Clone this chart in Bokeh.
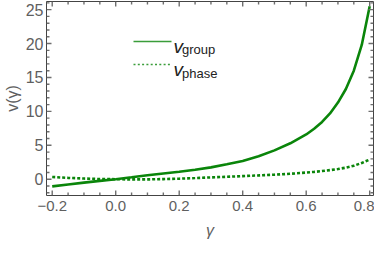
from bokeh.plotting import figure
from bokeh.models import FixedTicker, Label, BoxAnnotation, ColumnDataSource
from bokeh.embed import file_html
from bokeh.resources import INLINE

# ---- data ----
gamma = [-0.2, -0.15, -0.1, -0.05, 0.0, 0.05, 0.1, 0.15, 0.2, 0.25, 0.3, 0.35, 0.4,
         0.45, 0.5, 0.55, 0.6, 0.625, 0.65, 0.675, 0.7, 0.725, 0.75, 0.775, 0.8]
v_group = [-1.05, -0.77, -0.5, -0.25, 0.0, 0.28, 0.58, 0.85, 1.1, 1.4, 1.75, 2.2, 2.7,
           3.4, 4.25, 5.3, 6.6, 7.45, 8.45, 9.7, 11.3, 13.3, 16.0, 19.8, 25.5]
v_phase = [0.33, 0.2, 0.1, 0.03, 0.0, -0.03, -0.03, 0.02, 0.08, 0.17, 0.27, 0.36, 0.46,
           0.56, 0.67, 0.8, 0.98, 1.08, 1.2, 1.34, 1.5, 1.7, 1.98, 2.4, 2.9]

x_ticks = [-0.2, 0.0, 0.2, 0.4, 0.6, 0.8]
x_tick_labels = ["\u22120.2", "0.0", "0.2", "0.4", "0.6", "0.8"]
x_minor = [-0.15, -0.1, -0.05, 0.05, 0.1, 0.15, 0.25, 0.3, 0.35, 0.45, 0.5, 0.55, 0.65, 0.7, 0.75]
y_ticks = [0, 5, 10, 15, 20, 25]
y_minor = [-2, -1, 1, 2, 3, 4, 6, 7, 8, 9, 11, 12, 13, 14, 16, 17, 18, 19, 21, 22, 23, 24, 26]

series_names = ["group", "phase"]

X_LO, X_HI = -0.218, 0.812
Y_LO, Y_HI = -2.4, 26.2
FW, FH = 327, 194          # frame size in px
MAJ, MIN = 5, 3            # inward tick lengths in px
HX = 0.7 * (X_HI - X_LO) / FW   # half tick width in data units
HY = 0.7 * (Y_HI - Y_LO) / FH

GREEN = "#0a850a"
LEG_GREEN = "#3a9d3a"
TXT = "#5f5f5f"
FRAME = "#444444"
TICK = "#6e6e6e"
FONT = "Liberation Sans"

src = ColumnDataSource(dict(g=gamma, vg=v_group, vp=v_phase))

p = figure(frame_width=FW, frame_height=FH, output_backend="svg", toolbar_location=None,
           x_range=(X_LO, X_HI), y_range=(Y_LO, Y_HI),
           min_border_left=38, min_border_right=1, min_border_top=1, min_border_bottom=40)
p.grid.visible = False
p.outline_line_color = FRAME
p.outline_line_width = 1
p.background_fill_color = "white"
p.border_fill_color = "white"

p.line("g", "vg", source=src, line_color=GREEN, line_width=2.6)
p.line("g", "vp", source=src, line_color=GREEN, line_width=2.6, line_dash="3 2")

# inward frame ticks on all four sides: thin filled boxes
S = "screen"
for ticks, ln in ((x_ticks, MAJ), (x_minor, MIN)):
    for t in ticks:
        for b, tp in ((0, ln), (FH - ln, FH)):
            p.add_layout(BoxAnnotation(left=t - HX, right=t + HX, bottom=b, top=tp,
                                       bottom_units=S, top_units=S,
                                       fill_color=TICK, fill_alpha=1, line_color=None))
for ticks, ln in ((y_ticks, MAJ), (y_minor, MIN)):
    for t in ticks:
        for l, r in ((0, ln), (FW - ln, FW)):
            p.add_layout(BoxAnnotation(bottom=t - HY, top=t + HY, left=l, right=r,
                                       left_units=S, right_units=S,
                                       fill_color=TICK, fill_alpha=1, line_color=None))


def style_axis(ax, ticks, font_size):
    ax.ticker = FixedTicker(ticks=ticks, minor_ticks=[])
    ax.axis_line_color = None
    ax.major_tick_in = 0
    ax.major_tick_out = 0
    ax.minor_tick_in = 0
    ax.minor_tick_out = 0
    ax.major_label_text_font = FONT
    ax.major_label_text_color = TXT
    ax.major_label_text_font_size = font_size
    ax.axis_label_text_font = FONT
    ax.axis_label_text_color = TXT
    ax.axis_label_text_font_size = "16px"
    ax.axis_label_text_font_style = "normal"


xa = p.xaxis[0]
style_axis(xa, x_ticks, "15px")
xa.major_label_overrides = {t: l for t, l in zip(x_ticks, x_tick_labels)}
xa.major_label_standoff = 5
xa.axis_label = "\u03b3"
xa.axis_label_text_font_style = "italic"
xa.axis_label_standoff = 8

ya = p.yaxis[0]
style_axis(ya, y_ticks, "16px")
ya.major_label_standoff = 3
ya.axis_label = "v(\u03b3)"
ya.axis_label_standoff = 2

# legend: sample lines (frame-relative screen units) and texts with subscripts
y1, y2 = FH - 40, FH - 63
p.add_layout(BoxAnnotation(left=87, right=125, top=y1 + 0.8, bottom=y1 - 0.8, left_units=S,
                           right_units=S, top_units=S, bottom_units=S,
                           fill_color=LEG_GREEN, fill_alpha=1, line_color=None))
for k in range(9):
    p.add_layout(BoxAnnotation(left=87 + 4.3 * k, right=89 + 4.3 * k, top=y2 + 0.8, bottom=y2 - 0.8,
                               left_units=S, right_units=S, top_units=S, bottom_units=S,
                               fill_color=LEG_GREEN, fill_alpha=1, line_color=None))

for i, name in enumerate(series_names):
    base_v = FH - 45 - i * 23.4
    p.add_layout(Label(x=127, y=base_v, x_units=S, y_units=S, text="v",
                       text_font=FONT, text_font_style="italic", text_font_size="19px",
                       text_color="#222222", text_baseline="alphabetic"))
    p.add_layout(Label(x=135.5, y=base_v - 3.2, x_units=S, y_units=S, text=name,
                       text_font=FONT, text_font_size="13px",
                       text_color="#222222", text_baseline="alphabetic"))

open("out.html", "w").write(file_html(p, INLINE))
